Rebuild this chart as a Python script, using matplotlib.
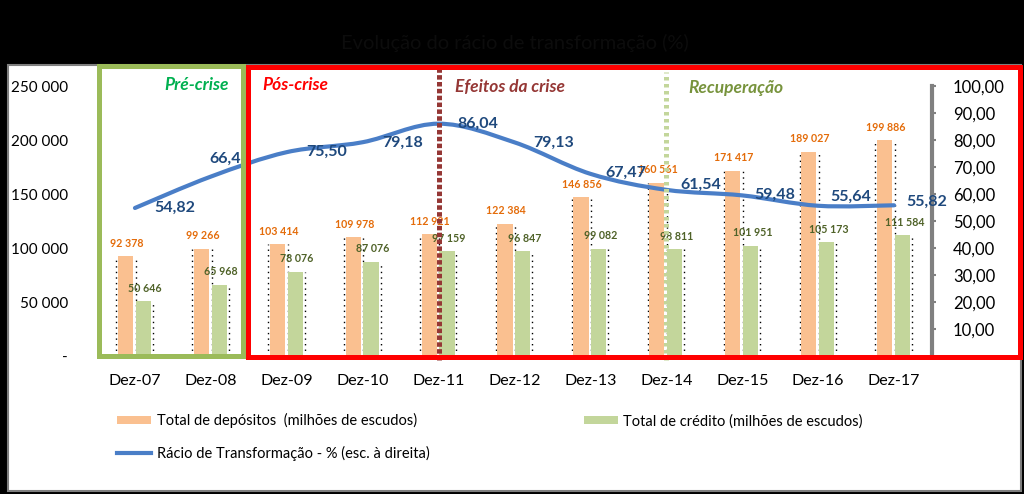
import numpy as np
import matplotlib.pyplot as plt
from matplotlib.patches import Rectangle
from matplotlib.path import Path
from matplotlib.patches import PathPatch
from matplotlib.lines import Line2D

plt.rcParams['font.family'] = ['Lato', 'DejaVu Sans']

anos = ['Dez-07', 'Dez-08', 'Dez-09', 'Dez-10', 'Dez-11', 'Dez-12',
        'Dez-13', 'Dez-14', 'Dez-15', 'Dez-16', 'Dez-17']
depositos = [92378, 99266, 103414, 109978, 112921, 122384,
             146856, 160561, 171417, 189027, 199886]
credito = [50646, 65968, 78076, 87076, 97159, 96847,
           99082, 98811, 101951, 105173, 111584]
racio = [54.82, 66.45, 75.50, 79.18, 86.04, 79.13,
         67.47, 61.54, 59.48, 55.64, 55.82]
# deslocamento (pixels) das etiquetas do racio
off_racio = [(40, 0), (19, 18), (40, 0), (40, -1), (39, 0), (39, 0),
             (35, 1), (34, 5), (33, 1), (33, 9), (33, 3)]

W, H = 1024, 494
def fx(x):
    return x / W
def fy(y):
    return 1 - y / H

fig = plt.figure(figsize=(W / 100, H / 100), dpi=100, facecolor='black')
fig.add_artist(Rectangle((fx(8), fy(491)), fx(1021) - fx(8), fy(65) - fy(491),
                         transform=fig.transFigure, facecolor='white',
                         edgecolor='#7f7f7f', lw=1.5, zorder=-5))

ax = fig.add_axes([fx(97), fy(356), fx(932) - fx(97), fy(86) - fy(356)])
ax.patch.set_visible(False)
x = np.arange(len(anos))

# linhas pontilhadas (sombra)
ax.vlines(x - 0.245, 0, depositos, colors='black', linestyles=(0, (1, 3)), lw=1, zorder=1)
ax.vlines(x + 0.01, 0, depositos, colors='black', linestyles=(0, (1, 3)), lw=1, zorder=1)
ax.vlines(x + 0.235, 0, credito, colors='black', linestyles=(0, (1, 3)), lw=1, zorder=1)

b1 = ax.bar(x - 0.125, depositos, width=0.2, color='#FAC090', zorder=2,
            label='Total de depósitos  (milhões de escudos)')
b2 = ax.bar(x + 0.11, credito, width=0.2, color='#C3D69B', zorder=2,
            label='Total de crédito (milhões de escudos)')
for i in range(len(anos)):
    ax.annotate(f'{depositos[i]:,}'.replace(',', ' '), (x[i] - 0.125, depositos[i]),
                xytext=(1, 13), textcoords='offset pixels', ha='center', va='center',
                fontsize=7.7, fontweight='bold', color='#E46C0A', zorder=4)
    ax.annotate(f'{credito[i]:,}'.replace(',', ' '), (x[i] + 0.11, credito[i]),
                xytext=(2, 13), textcoords='offset pixels', ha='center', va='center',
                fontsize=7.7, fontweight='bold', color='#4F6228', zorder=4)

ax.set_xlim(-0.5, 10.5)
ax.set_ylim(0, 250000)
yt = list(range(0, 250001, 50000))
ax.set_yticks(yt)
ax.set_yticklabels(['-' if v == 0 else f'{v:,}'.replace(',', ' ') for v in yt])
ax.set_xticks(x)
ax.set_xticklabels(anos)
ax.tick_params(axis='y', length=0, pad=21, labelsize=11)
ax.tick_params(axis='x', length=0, pad=13, labelsize=11.5)
for s in ax.spines.values():
    s.set_visible(False)

ax2 = ax.twinx()
ax2.set_ylim(0, 100)
rt = list(range(10, 101, 10))
ax2.set_yticks(rt)
ax2.set_yticklabels([f'{v:.2f}'.replace('.', ',') for v in rt])
for k, s in ax2.spines.items():
    s.set_visible(k == 'right')
ax2.spines['right'].set_color('#808080')
ax2.spines['right'].set_linewidth(3)
ax2.tick_params(axis='y', direction='out', length=3, width=1.5, color='#808080',
                pad=12, labelsize=12)

# linha suavizada (Catmull-Rom -> Bezier)
pts = np.column_stack([x, racio]).astype(float)
ext = np.vstack([pts[0], pts, pts[-1]])
verts = [tuple(pts[0])]
codes = [Path.MOVETO]
for i in range(1, len(ext) - 2):
    p0, p1, p2, p3 = ext[i - 1], ext[i], ext[i + 1], ext[i + 2]
    c1 = p1 + (p2 - p0) / 6
    c2 = p2 - (p3 - p1) / 6
    verts += [tuple(c1), tuple(c2), tuple(p2)]
    codes += [Path.CURVE4] * 3
ax2.add_patch(PathPatch(Path(verts, codes), facecolor='none', edgecolor='#4A7EC7',
                        lw=3, capstyle='round', zorder=5))
l3 = Line2D([], [], color='#4A7EC7', lw=3, label='Rácio de Transformação - % (esc. à direita)')
for i in range(len(anos)):
    ax2.annotate(f'{racio[i]:.2f}'.replace('.', ','), (x[i], racio[i]),
                 xytext=off_racio[i], textcoords='offset pixels', ha='center', va='center',
                 fontsize=11.5, fontweight='bold', color='#1F497D', zorder=6)

# linhas verticais das fases
ytop = (356 - 65) / 270
ax2.axvline(4, ymin=-0.015, ymax=ytop, color='#953735', lw=3.6,
            linestyle=(0, (0.9, 0.47)), dash_capstyle='butt', clip_on=False, zorder=8)
ax2.axvline(7, ymin=-0.015, ymax=(356 - 72) / 270, color='#C3D69B', lw=3.6,
            linestyle=(0, (0.7, 0.7)), dash_capstyle='butt', clip_on=False, zorder=8)

# caixas
fig.add_artist(Rectangle((fx(98.5), fy(356)), fx(242.5) - fx(98.5), fy(66.5) - fy(356),
                         transform=fig.transFigure, fill=False, edgecolor='#9BBB59',
                         lw=3.6, zorder=5))
fig.add_artist(Rectangle((fx(247.5), fy(356.5)), fx(1019.5) - fx(247.5), fy(66.5) - fy(356.5),
                         transform=fig.transFigure, fill=False, edgecolor='#FF0000',
                         lw=3.6, zorder=5))

fig.text(fx(197), fy(85), 'Pré-crise', color='#00B050', fontsize=12.5,
         fontweight='bold', fontstyle='italic', ha='center', va='center')
fig.text(fx(262), fy(85), 'Pós-crise', color='#FF0000', fontsize=12.5,
         fontweight='bold', fontstyle='italic', ha='left', va='center')
fig.text(fx(455), fy(87), 'Efeitos da crise', color='#953735', fontsize=12.5,
         fontweight='bold', fontstyle='italic', ha='left', va='center')
fig.text(fx(688), fy(88), 'Recuperação', color='#77933C', fontsize=12.5,
         fontweight='bold', fontstyle='italic', ha='left', va='center')

fig.text(fx(515), fy(43), 'Evolução do rácio de transformação (%)', color='#0c0c0c',
         fontsize=14.5, ha='center', va='center')

fig.legend(handles=[b1, l3, b2], loc='upper left', bbox_to_anchor=(fx(110), fy(406)),
           ncol=2, frameon=False, fontsize=10.5, borderpad=0, handlelength=2.3,
           handleheight=0.5, handletextpad=0.4, columnspacing=10.6, labelspacing=1.2)

fig.savefig('out.png', dpi=100, facecolor='black')
